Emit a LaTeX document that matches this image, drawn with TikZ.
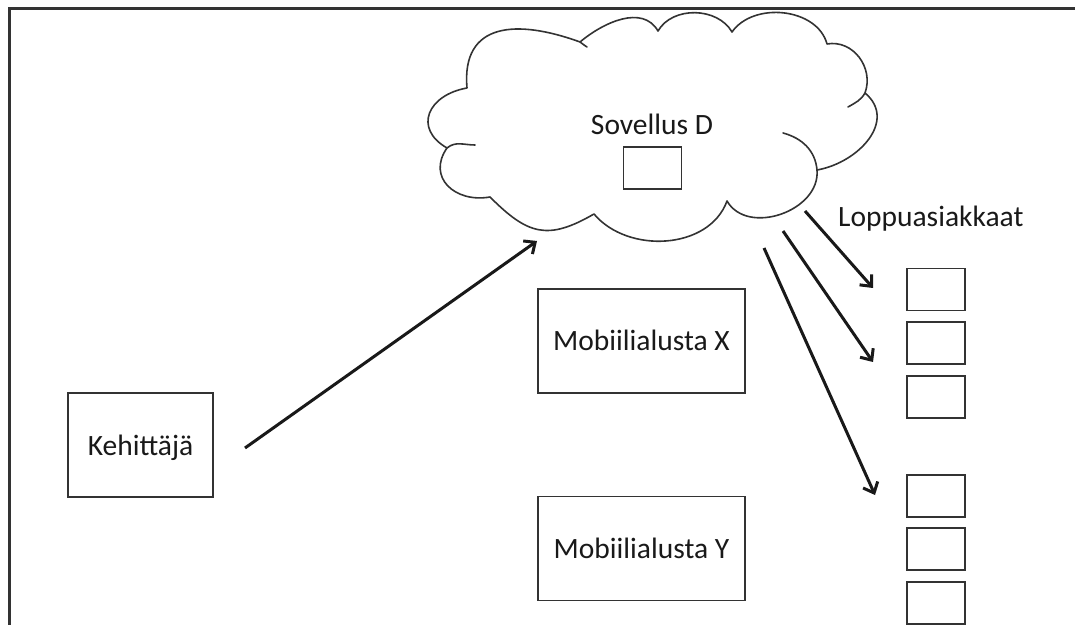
\documentclass[tikz,border=0pt]{standalone}
\usepackage{fontspec}
\setmainfont{Carlito}
\usetikzlibrary{arrows.meta}

\begin{document}
\begin{tikzpicture}[x=1pt,y=1pt,
  every node/.style={font=\fontsize{29.5}{35}\selectfont, text=black!90},
  box/.style={draw=black!80, line width=1.8pt, inner sep=0pt, text height=20pt, text depth=-4pt},
  client/.style={box, minimum width=58pt, minimum height=42pt},
  platform/.style={box, minimum width=207pt, minimum height=104pt},
  flow/.style={line width=3pt, draw=black!90, -{Straight Barb[length=9pt,width=16pt]}},
  cloudline/.style={draw=black!80, line width=1.6pt, line join=round, line cap=round},
  label/.style={inner sep=0pt}
]
\useasboundingbox (0,0) rectangle (1075,624);

% outer frame
\draw[line width=2.6pt, black!80] (9.5,-5) -- (9.5,615.5) -- (1080,615.5);

% cloud cusps
\coordinate (p1) at (467,536);
\coordinate (p2) at (580,582);
\coordinate (p3) at (658,593);
\coordinate (p4) at (732,592);
\coordinate (p5) at (827,580);
\coordinate (p6) at (865,531);
\coordinate (p7) at (817,454);
\coordinate (p8) at (727,423);
\coordinate (p9) at (594,410);
\coordinate (p10) at (490,427);
\coordinate (p11) at (447,476);

% cloud outline
\draw[cloudline]
  (p1) to[out=95,in=160,looseness=1.4] (p2)
       to[out=40,in=120,looseness=1.0] (p3)
       to[out=60,in=120,looseness=1.0] (p4)
       to[out=55,in=105,looseness=1.0] (p5)
       to[out=10,in=70,looseness=1.1] (p6)
       to[out=-40,in=10,looseness=1.2] (p7)
       to[out=-85,in=-60,looseness=1.1] (p8)
       to[out=-110,in=-50,looseness=1.0] (p9)
       to[out=-150,in=-45,looseness=1.3] (p10)
       to[out=190,in=-125,looseness=1.4] (p11)
       to[out=150,in=190,looseness=1.6] (p1);

% inner strokes of the cloud
\coordinate (t1) at (783,491);
\coordinate (t2) at (848,517);
\coordinate (t3) at (475,479);
\coordinate (t4) at (587,577);
\draw[cloudline] (t1) to[out=-15,in=95] (p7);
\draw[cloudline] (p6) to[out=-120,in=30] (t2);
\draw[cloudline] (p11) to[out=40,in=180] (t3);
\draw[cloudline] (p2) to[out=-25,in=160] (t4);

% application in the cloud
\node[label, anchor=base] (apptitle) at (652,489) {Sovellus D};
\node[client] (app) at (652.5,456) {};

% developer and platforms
\node[box, minimum width=145pt, minimum height=104pt] (dev) at (140.5,179) {Kehittäjä};
\node[platform] (platX) at (641.5,283) {Mobiilialusta X};
\node[platform] (platY) at (641.5,75.5) {Mobiilialusta Y};

% end users
\node[label, anchor=base west] (users) at (838,397) {Loppuasiakkaat};
\node[client] (u1) at (936,334.5) {};
\node[client] (u2) at (936,281) {};
\node[client] (u3) at (936,227) {};
\node[client] (u4) at (936,128) {};
\node[client] (u5) at (936,75) {};
\node[client] (u6) at (936,21) {};

% arrow end points
\coordinate (d0) at (245,176);
\coordinate (d1) at (537,383);
\coordinate (a1s) at (805,413);
\coordinate (a1e) at (873,336);
\coordinate (a2s) at (783,393);
\coordinate (a2e) at (873,262);
\coordinate (a3s) at (764,376);
\coordinate (a3e) at (875,129);

\draw[flow] (d0) -- (d1);
\draw[flow] (a1s) -- (a1e);
\draw[flow] (a2s) -- (a2e);
\draw[flow] (a3s) -- (a3e);
\end{tikzpicture}
\end{document}
